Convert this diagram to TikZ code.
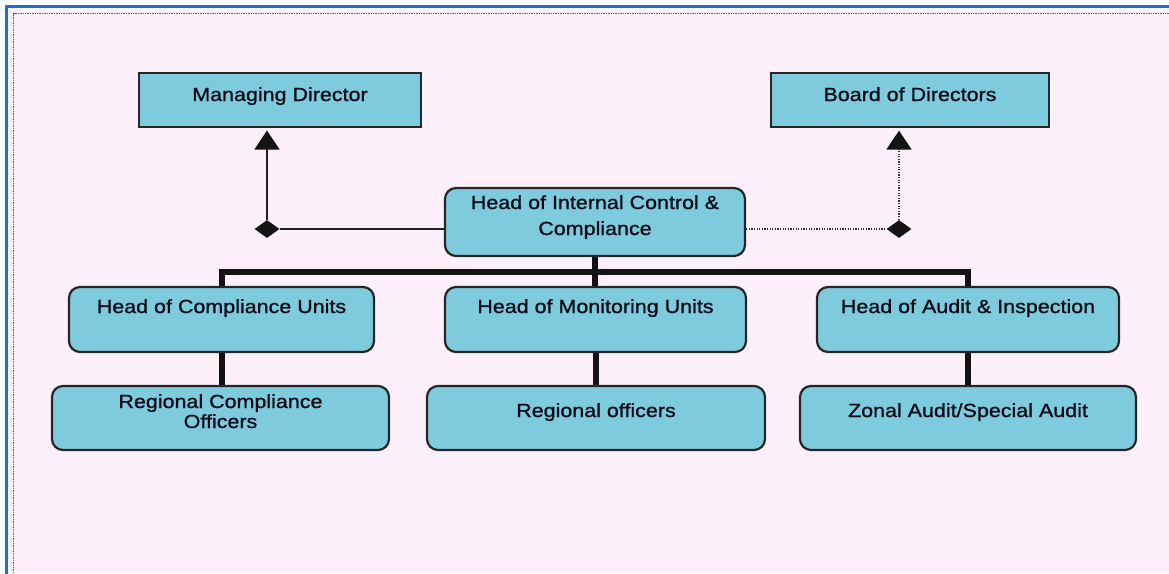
\documentclass[tikz,border=0pt]{standalone}
\usepackage{fontspec}
\setmainfont{Liberation Sans}[FakeStretch=1.13,FakeBold=1.1]
\usetikzlibrary{shapes.geometric,arrows.meta,calc}
\definecolor{bgpink}{HTML}{FDF0FB}
\definecolor{frameblue}{HTML}{1A73C8}
\definecolor{boxfill}{HTML}{7FCBDE}
\definecolor{boxline}{HTML}{262626}
\definecolor{txtcol}{HTML}{0C0C18}
\tikzset{
  sqbox/.style={draw=boxline, line width=2.2pt, fill=boxfill, rectangle, inner sep=0pt},
  rbox/.style={sqbox, rounded corners=11pt},
  lbl/.style={text=txtcol, inner sep=0pt, align=center, anchor=base, font=\fontsize{19}{26}\selectfont},
  bus/.style={draw=black!93, line width=6pt},
  thinlink/.style={draw=black!88, line width=1.6pt},
  dotlink/.style={draw=black!80, line width=1.6pt, dash pattern=on 1.3pt off 1.3pt},
  jdiamond/.style={diamond, fill=black!92, draw=none, minimum width=25pt, minimum height=18pt, inner sep=0pt},
  uptip/.style={-{Triangle[width=25pt,length=19pt,color=black!92]}, shorten >=2.5pt}
}
\begin{document}
\begin{tikzpicture}[x=1pt,y=-1pt]
\useasboundingbox (0,0) rectangle (1169,573);
% background and frame
\fill[white] (0,0) rectangle (1169,573);
\fill[bgpink] (6,6) rectangle (1169,573);
\draw[frameblue, line width=3pt] (6,590) -- (6,6) -- (1190,6);
\draw[black!62, line width=1.8pt, dash pattern=on 1.4pt off 1pt] (13.5,590) -- (13.5,13.5) -- (1190,13.5);
% top boxes
\node[sqbox, minimum width=282pt, minimum height=54pt] (md) at (280,100) {};
\node[lbl] (mdt) at (280,101) {Managing Director};
\node[sqbox, minimum width=278pt, minimum height=54pt] (bod) at (910,100) {};
\node[lbl] (bodt) at (910,101) {Board of Directors};
% central box
\node[rbox, minimum width=300pt, minimum height=68pt] (hicc) at (595,222) {};
\node[lbl] (hicct) at (595,235) {Head of Internal Control \&\\Compliance};
% heads
\node[rbox, minimum width=305pt, minimum height=65pt] (hcu) at (221.5,319.5) {};
\node[lbl] (hcut) at (221.5,313) {Head of Compliance Units};
\node[rbox, minimum width=301pt, minimum height=65pt] (hmu) at (595.5,319.5) {};
\node[lbl] (hmut) at (595.5,313) {Head of Monitoring Units};
\node[rbox, minimum width=302pt, minimum height=65pt] (hai) at (968,319.5) {};
\node[lbl] (hait) at (968,313) {Head of Audit \& Inspection};
% lower boxes
\node[rbox, minimum width=337pt, minimum height=64pt] (rco) at (220.5,418) {};
\node[lbl, font=\fontsize{19}{20}\selectfont] (rcot) at (220.5,428) {Regional Compliance\\Officers};
\node[rbox, minimum width=338pt, minimum height=64pt] (ro) at (596,418) {};
\node[lbl] (rot) at (596,417) {Regional officers};
\node[rbox, minimum width=336pt, minimum height=64pt] (zasa) at (968,418) {};
\node[lbl] (zasat) at (968,417) {Zonal Audit/Special Audit};
% junctions
\node[jdiamond] (mdj) at (267,229) {};
\node[jdiamond] (bodj) at (899,229) {};
% reporting links
\draw[thinlink] (hicc.west |- mdj) -- (mdj);
\draw[thinlink, uptip] (mdj) -- (mdj |- md.south);
\draw[dotlink] (hicc.east |- bodj) -- (bodj);
\draw[dotlink, uptip] (bodj) -- (bodj |- bod.south);
% hierarchy bus
\coordinate (bus) at (595,272);
\draw[bus] (hicc.south) -- (bus);
\draw[bus] (hcu.north) -- (hcu.north |- bus) -- (hai.north |- bus) -- (hai.north);
\draw[bus] (bus) -- (bus |- hmu.north);
\draw[bus] (hcu.south) -- (hcu.south |- rco.north);
\draw[bus] (hmu.south) -- (hmu.south |- ro.north);
\draw[bus] (hai.south) -- (hai.south |- zasa.north);
\end{tikzpicture}
\end{document}
